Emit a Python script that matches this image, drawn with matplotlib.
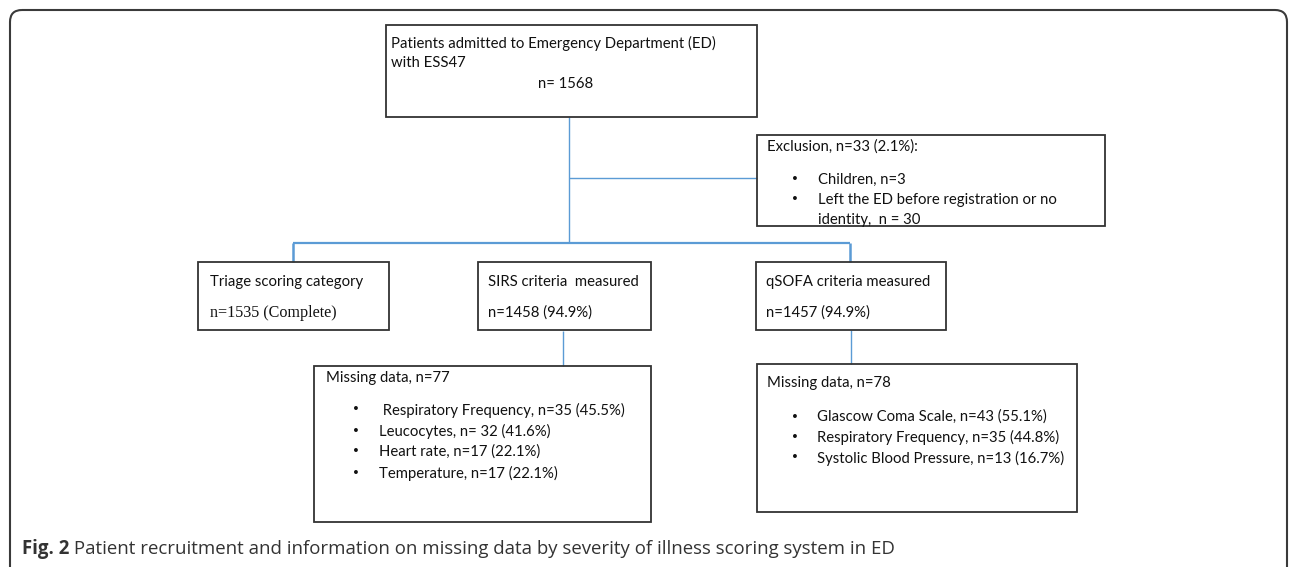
import matplotlib
matplotlib.use("Agg")
import matplotlib.pyplot as plt
from matplotlib.patches import Rectangle, FancyBboxPatch

# ---- content ----
top_lines = ["Patients admitted to Emergency Department (ED)", "with ESS47"]
top_n = "n= 1568"
excl_title = "Exclusion, n=33 (2.1%):"
excl_items = ["Children, n=3", "Left the ED before registration or no"]
excl_cont = "identity,  n = 30"
branch_titles = ["Triage scoring category", "SIRS criteria  measured", "qSOFA criteria measured"]
branch_counts = ["n=1535 (Complete)", "n=1458 (94.9%)", "n=1457 (94.9%)"]
miss1_title = "Missing data, n=77"
miss1_items = [" Respiratory Frequency, n=35 (45.5%)", "Leucocytes, n= 32 (41.6%)",
               "Heart rate, n=17 (22.1%)", "Temperature, n=17 (22.1%)"]
miss2_title = "Missing data, n=78"
miss2_items = ["Glascow Coma Scale, n=43 (55.1%)", "Respiratory Frequency, n=35 (44.8%)",
               "Systolic Blood Pressure, n=13 (16.7%)"]
caption_bold = "Fig. 2"
caption_text = " Patient recruitment and information on missing data by severity of illness scoring system in ED"

# ---- layout (pixels) ----
W, H = 1290, 567
fig = plt.figure(figsize=(W / 100, H / 100), dpi=100)
ax = fig.add_axes([0, 0, 1, 1])
ax.set_xlim(0, W)
ax.set_ylim(H, 0)
ax.axis("off")

FONT = "Lato"
FS = 10.7
BLUE = "#5b9bd5"
BOX = "#333333"

def box(x0, y0, x1, y1):
    ax.add_patch(Rectangle((x0, y0), x1 - x0, y1 - y0, fill=False, ec=BOX, lw=1.3, zorder=3))

def txt(x, y, s, **kw):
    d = dict(fontsize=FS, family=FONT, color="#111111", va="center", ha="left")
    d.update(kw)
    ax.text(x, y, s, **d)

def bullet(x, y):
    ax.text(x, y, "\u2022", fontsize=9.5, family="DejaVu Sans", color="#111111",
            va="center", ha="left")

def line(xs, ys, lw=1.0):
    ax.plot(xs, ys, color=BLUE, lw=lw, solid_capstyle="butt", zorder=2)

# outer frame
ax.add_patch(FancyBboxPatch((10, 10), 1277, 575, boxstyle="round,pad=0,rounding_size=12",
                            fill=False, ec="#3a3a3a", lw=1.5, zorder=1, clip_on=False))

# top box
box(386, 25, 757, 117)
txt(391, 43, top_lines[0])
txt(391, 63, top_lines[1])
txt(566, 84, top_n, ha="center")

# connectors
line([568.5, 568.5], [117, 243])
line([568.5, 757], [178, 178])
line([293, 850], [243, 243], lw=1.6)
line([293, 293], [243, 262], lw=1.8)
line([850, 850], [243, 262], lw=1.8)
line([563, 563], [331, 366])
line([851, 851], [330, 364])

# exclusion box
box(757, 135, 1105, 226)
txt(767, 147, excl_title)
for i, s in enumerate(excl_items):
    y = 180 + 20 * i
    bullet(791, y)
    txt(818, y, s)
txt(818, 220, excl_cont)

# branch boxes
bx = [(198, 389), (478, 651), (756, 946)]
for (x0, x1), t, c, k in zip(bx, branch_titles, branch_counts, range(3)):
    box(x0, 262, x1, 330)
    txt(x0 + 12 if k == 0 else x0 + 10, 282, t)
    if k == 0:
        txt(x0 + 12, 313, c, family="Liberation Serif", fontsize=FS + 0.9)
    else:
        txt(x0 + 10, 313, c)

# missing data boxes
box(314, 366, 651, 522)
txt(326, 378, miss1_title)
for i, s in enumerate(miss1_items):
    y = 410 + 21 * i
    bullet(352, y)
    txt(379, y, s)

box(757, 364, 1077, 512)
txt(767, 383, miss2_title)
for i, s in enumerate(miss2_items):
    y = 417 + 20.5 * i
    bullet(791, y)
    txt(817, y, s)

# caption
CFS = 13.4
t = ax.text(22, 549, caption_bold, fontsize=CFS, family="Open Sans", weight="bold",
            color="#333333", va="center", ha="left")
fig.canvas.draw()
bb = t.get_window_extent()
x_end = ax.transData.inverted().transform((bb.x1, 0))[0]
ax.text(x_end, 549, caption_text, fontsize=CFS, family="Open Sans", color="#333333",
        va="center", ha="left")

fig.savefig("out.png", dpi=100)
